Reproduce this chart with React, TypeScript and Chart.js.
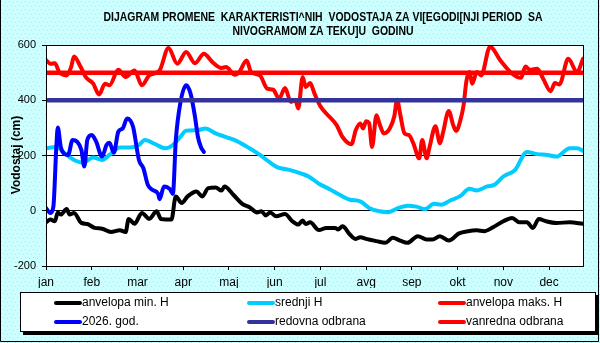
import React, { useEffect, useRef } from 'react';
import { Chart, registerables } from 'chart.js';

Chart.register(...registerables);

// ---------- DATA ----------
const monthLabels = ['jan', 'feb', 'mar', 'apr', 'maj', 'jun', 'jul', 'avg', 'sep', 'okt', 'nov', 'dec'];
const monthTickDays = [0, 31, 62, 93, 124, 155, 186, 217, 248, 279, 310, 341];
const lastDay = 364;

const titleLines = [
  'DIJAGRAM PROMENE  KARAKTERISTI^NIH  VODOSTAJA ZA VI[EGODI[NJI PERIOD  SA',
  'NIVOGRAMOM ZA TEKU]U  GODINU',
];
const yAxisTitle = 'Vodostaj (cm)';

// anvelopa min. H
const minDays = [0, 3, 6, 8, 10, 14, 16, 19, 24, 28, 33, 38, 44, 50, 54, 56, 60, 65, 70, 75, 78, 85, 88, 92, 96, 102, 106, 110, 115, 119, 121, 127, 133, 138, 143, 146, 149, 152, 156, 162, 167, 171, 174, 176, 179, 185, 190, 196, 198, 201, 206, 210, 213, 217, 224, 230, 235, 240, 245, 252, 258, 262, 267, 273, 280, 286, 292, 297, 303, 310, 316, 321, 326, 330, 334, 339, 346, 355, 364];
const minVals = [-42, -32, -38, -6, -14, 6, -14, -8, -44, -48, -62, -65, -77, -71, -77, -30, -47, -8, -29, -2, -30, -32, 52, 28, 52, 70, 52, 82, 84, 73, 88, 58, 25, 13, -6, -2, -17, -6, -20, -12, -38, -50, -35, -48, -42, -70, -62, -62, -68, -56, -86, -102, -96, -102, -110, -116, -98, -108, -116, -92, -104, -104, -92, -108, -82, -74, -71, -74, -60, -38, -26, -42, -42, -62, -30, -38, -44, -42, -47];

// srednji H
const meanDays = [0, 7, 14, 20, 25, 32, 38, 43, 50, 57, 63, 67, 74, 81, 86, 91, 95, 103, 108, 115, 123, 129, 138, 145, 152, 157, 165, 174, 178, 185, 192, 199, 206, 213, 219, 226, 232, 239, 245, 251, 257, 263, 268, 274, 281, 287, 292, 299, 304, 310, 318, 326, 333, 340, 346, 355, 360, 364];
const meanVals = [226, 231, 202, 181, 174, 193, 184, 202, 229, 229, 238, 256, 241, 226, 238, 267, 290, 292, 298, 280, 265, 253, 226, 202, 174, 157, 148, 133, 124, 98, 79, 58, 40, 34, 10, -2, -5, 10, 18, 15, 6, 25, 22, 37, 54, 80, 73, 88, 94, 124, 148, 213, 205, 202, 196, 226, 226, 217];

// anvelopa maks. H
const maxDays = [0, 3, 6, 9, 14, 17, 19, 23, 27, 32, 36, 40, 43, 49, 54, 60, 65, 70, 77, 83, 89, 95, 101, 107, 113, 119, 122, 128, 131, 136, 139, 145, 150, 154, 158, 162, 166, 169, 171, 174, 176, 179, 182, 186, 190, 197, 201, 207, 210, 213, 215, 217, 219, 221, 224, 226, 229, 233, 236, 238, 240, 243, 246, 249, 253, 255, 258, 260, 264, 267, 269, 273, 276, 278, 281, 283, 285, 287, 289, 292, 295, 301, 308, 316, 322, 325, 328, 333, 337, 342, 345, 348, 354, 360, 364];
const maxVals = [546, 532, 534, 502, 490, 520, 558, 526, 484, 460, 421, 460, 454, 510, 484, 508, 454, 490, 508, 589, 532, 575, 534, 568, 537, 517, 520, 492, 502, 544, 502, 490, 442, 438, 406, 444, 394, 400, 370, 484, 448, 462, 424, 378, 352, 310, 267, 241, 292, 316, 298, 324, 318, 231, 346, 316, 280, 298, 340, 402, 352, 280, 274, 244, 190, 256, 190, 231, 306, 244, 280, 361, 310, 289, 330, 380, 470, 502, 460, 502, 490, 594, 544, 496, 481, 522, 510, 514, 478, 433, 462, 457, 550, 502, 550];

// 2026. god.
const curDays = [0, 3, 5, 7, 8, 10, 12, 15, 18, 21, 24, 26, 28, 31, 34, 38, 41, 43, 46, 49, 52, 55, 59, 63, 66, 69, 72, 76, 77, 80, 84, 86, 88, 91, 95, 98, 101, 103, 105, 107];
const curVals = [10, -8, 15, 231, 301, 231, 208, 202, 256, 250, 220, 160, 256, 274, 250, 196, 238, 246, 210, 286, 298, 334, 304, 184, 154, 94, 76, 61, 42, 88, 78, 61, 256, 388, 454, 424, 340, 267, 231, 213];

// defence levels
const levelDays = [0, 364];
const redovnaLevel = 400;
const vanrednaLevel = 500;

const seriesNames = ['anvelopa min. H', 'srednji H', 'anvelopa maks. H', '2026. god.', 'redovna odbrana', 'vanredna odbrana'];
const seriesColors = ['#000000', '#00CCFF', '#FF0000', '#0000FF', '#333399', '#FF0000'];

const yMin = -200;
const yMax = 600;
const yStep = 200;

// ---------- helpers ----------
const pts = (days: number[], vals: number[]) => days.map((d, i) => ({ x: d, y: vals[i] }));
const FONT = '"Liberation Sans", Arial, sans-serif';

function makePattern(ctx: CanvasRenderingContext2D) {
  const tile = document.createElement('canvas');
  tile.width = 8;
  tile.height = 8;
  const t = tile.getContext('2d')!;
  t.fillStyle = '#CCFFFF';
  t.fillRect(0, 0, 8, 8);
  t.fillStyle = '#A8E6F0';
  [[1, 1], [5, 2], [3, 5], [7, 6]].forEach(([x, y]) => t.fillRect(x, y, 1, 1));
  return ctx.createPattern(tile, 'repeat')!;
}

const framePlugin = {
  id: 'frame',
  beforeDraw(chart: any) {
    const { ctx, width, height, chartArea: ca } = chart;
    ctx.save();
    ctx.fillStyle = makePattern(ctx);
    ctx.fillRect(0, 0, width, height);
    ctx.fillStyle = '#FFFFFF';
    ctx.fillRect(ca.left, ca.top, ca.right - ca.left, ca.bottom - ca.top);
    ctx.restore();
  },
  afterDraw(chart: any) {
    const { ctx, chartArea: ca } = chart;
    ctx.save();
    // plot border
    ctx.strokeStyle = '#000';
    ctx.lineWidth = 1;
    ctx.strokeRect(Math.round(ca.left) + 0.5, Math.round(ca.top) + 0.5, Math.round(ca.right - ca.left), Math.round(ca.bottom - ca.top));

    // title
    ctx.fillStyle = '#000';
    ctx.font = `bold 12px ${FONT}`;
    ctx.textAlign = 'center';
    ctx.textBaseline = 'middle';
    const w1 = ctx.measureText(titleLines[0]).width;
    const scale = Math.min(1, 439 / w1);
    ctx.save();
    ctx.translate(323, 0);
    ctx.scale(scale, 1);
    ctx.fillText(titleLines[0], 0, 18);
    ctx.fillText(titleLines[1], 0, 32);
    ctx.restore();

    // y title
    ctx.save();
    ctx.translate(17, 155);
    ctx.rotate(-Math.PI / 2);
    ctx.font = `bold 12px ${FONT}`;
    ctx.fillText(yAxisTitle, 0, 0);
    ctx.restore();

    // legend box
    const lx = 20, ly = 292, lw = 576, lh = 40;
    ctx.fillStyle = '#000';
    ctx.fillRect(lx + 3, ly + 3, lw, lh);
    ctx.fillStyle = '#fff';
    ctx.fillRect(lx, ly, lw, lh);
    ctx.strokeStyle = '#000';
    ctx.strokeRect(lx + 0.5, ly + 0.5, lw - 1, lh - 1);
    const colX = [56, 249, 440];
    const rowY = [303, 322];
    ctx.font = `12px ${FONT}`;
    ctx.textAlign = 'left';
    ctx.textBaseline = 'middle';
    seriesNames.forEach((name, i) => {
      const cx = colX[i % 3];
      const cy = rowY[Math.floor(i / 3)];
      ctx.strokeStyle = seriesColors[i];
      ctx.lineWidth = 4;
      ctx.lineCap = 'round';
      ctx.beginPath();
      ctx.moveTo(cx, cy);
      ctx.lineTo(cx + 24, cy);
      ctx.stroke();
      ctx.fillStyle = '#000';
      ctx.fillText(name, cx + 26, cy);
    });

    // outer frame
    ctx.strokeStyle = '#000';
    ctx.lineWidth = 1;
    ctx.lineCap = 'butt';
    ctx.beginPath();
    ctx.moveTo(0.5, 0);
    ctx.lineTo(0.5, 341.5);
    ctx.lineTo(598.5, 341.5);
    ctx.lineTo(598.5, 0);
    ctx.stroke();
    ctx.restore();
  },
};

export default function App() {
  const ref = useRef<HTMLCanvasElement | null>(null);

  useEffect(() => {
    document.body.style.margin = '0';
    const canvas = ref.current!;
    const seriesData = [
      pts(minDays, minVals),
      pts(meanDays, meanVals),
      pts(maxDays, maxVals),
      pts(curDays, curVals),
      pts(levelDays, levelDays.map(() => redovnaLevel)),
      pts(levelDays, levelDays.map(() => vanrednaLevel)),
    ];
    const datasets = seriesData.map((data, i) => ({
      label: seriesNames[i],
      data,
      borderColor: seriesColors[i],
      backgroundColor: seriesColors[i],
      borderWidth: i >= 4 ? 4.5 : 4,
      pointRadius: 0,
      fill: false,
      cubicInterpolationMode: 'monotone' as const,
      borderJoinStyle: 'round' as const,
      borderCapStyle: 'round' as const,
      order: 10 - i,
    }));

    const chart = new Chart(canvas, {
      type: 'line',
      data: { datasets },
      plugins: [framePlugin],
      options: {
        responsive: false,
        animation: false,
        devicePixelRatio: 1,
        layout: { padding: { left: 6, right: 17, top: 45, bottom: 55 } },
        plugins: {
          legend: { display: false },
          title: { display: false },
          tooltip: { enabled: false },
        },
        scales: {
          x: {
            type: 'linear',
            min: 0,
            max: lastDay,
            afterBuildTicks: (scale: any) => {
              scale.ticks = monthTickDays.map((v) => ({ value: v }));
            },
            afterFit: (scale: any) => {
              scale.height = 22;
            },
            ticks: {
              autoSkip: false,
              maxRotation: 0,
              padding: 5,
              color: '#000',
              font: { family: FONT, size: 12 },
              callback: (v: any) => {
                const idx = monthTickDays.indexOf(Number(v));
                return idx >= 0 ? monthLabels[idx] : '';
              },
            },
            grid: { drawOnChartArea: false, drawTicks: true, tickLength: 4, color: '#000' },
            border: { display: true, color: '#000', width: 1 },
          },
          y: {
            min: yMin,
            max: yMax,
            afterFit: (scale: any) => {
              scale.width = 40;
            },
            ticks: {
              stepSize: yStep,
              padding: 6,
              color: '#000',
              font: { family: FONT, size: 11 },
            },
            grid: { color: '#000', lineWidth: 1, tickLength: 4, drawTicks: true },
            border: { display: true, color: '#000', width: 1 },
          },
        },
      },
    });
    return () => chart.destroy();
  }, []);

  return <canvas ref={ref} width={600} height={343} style={{ display: 'block' }} />;
}
